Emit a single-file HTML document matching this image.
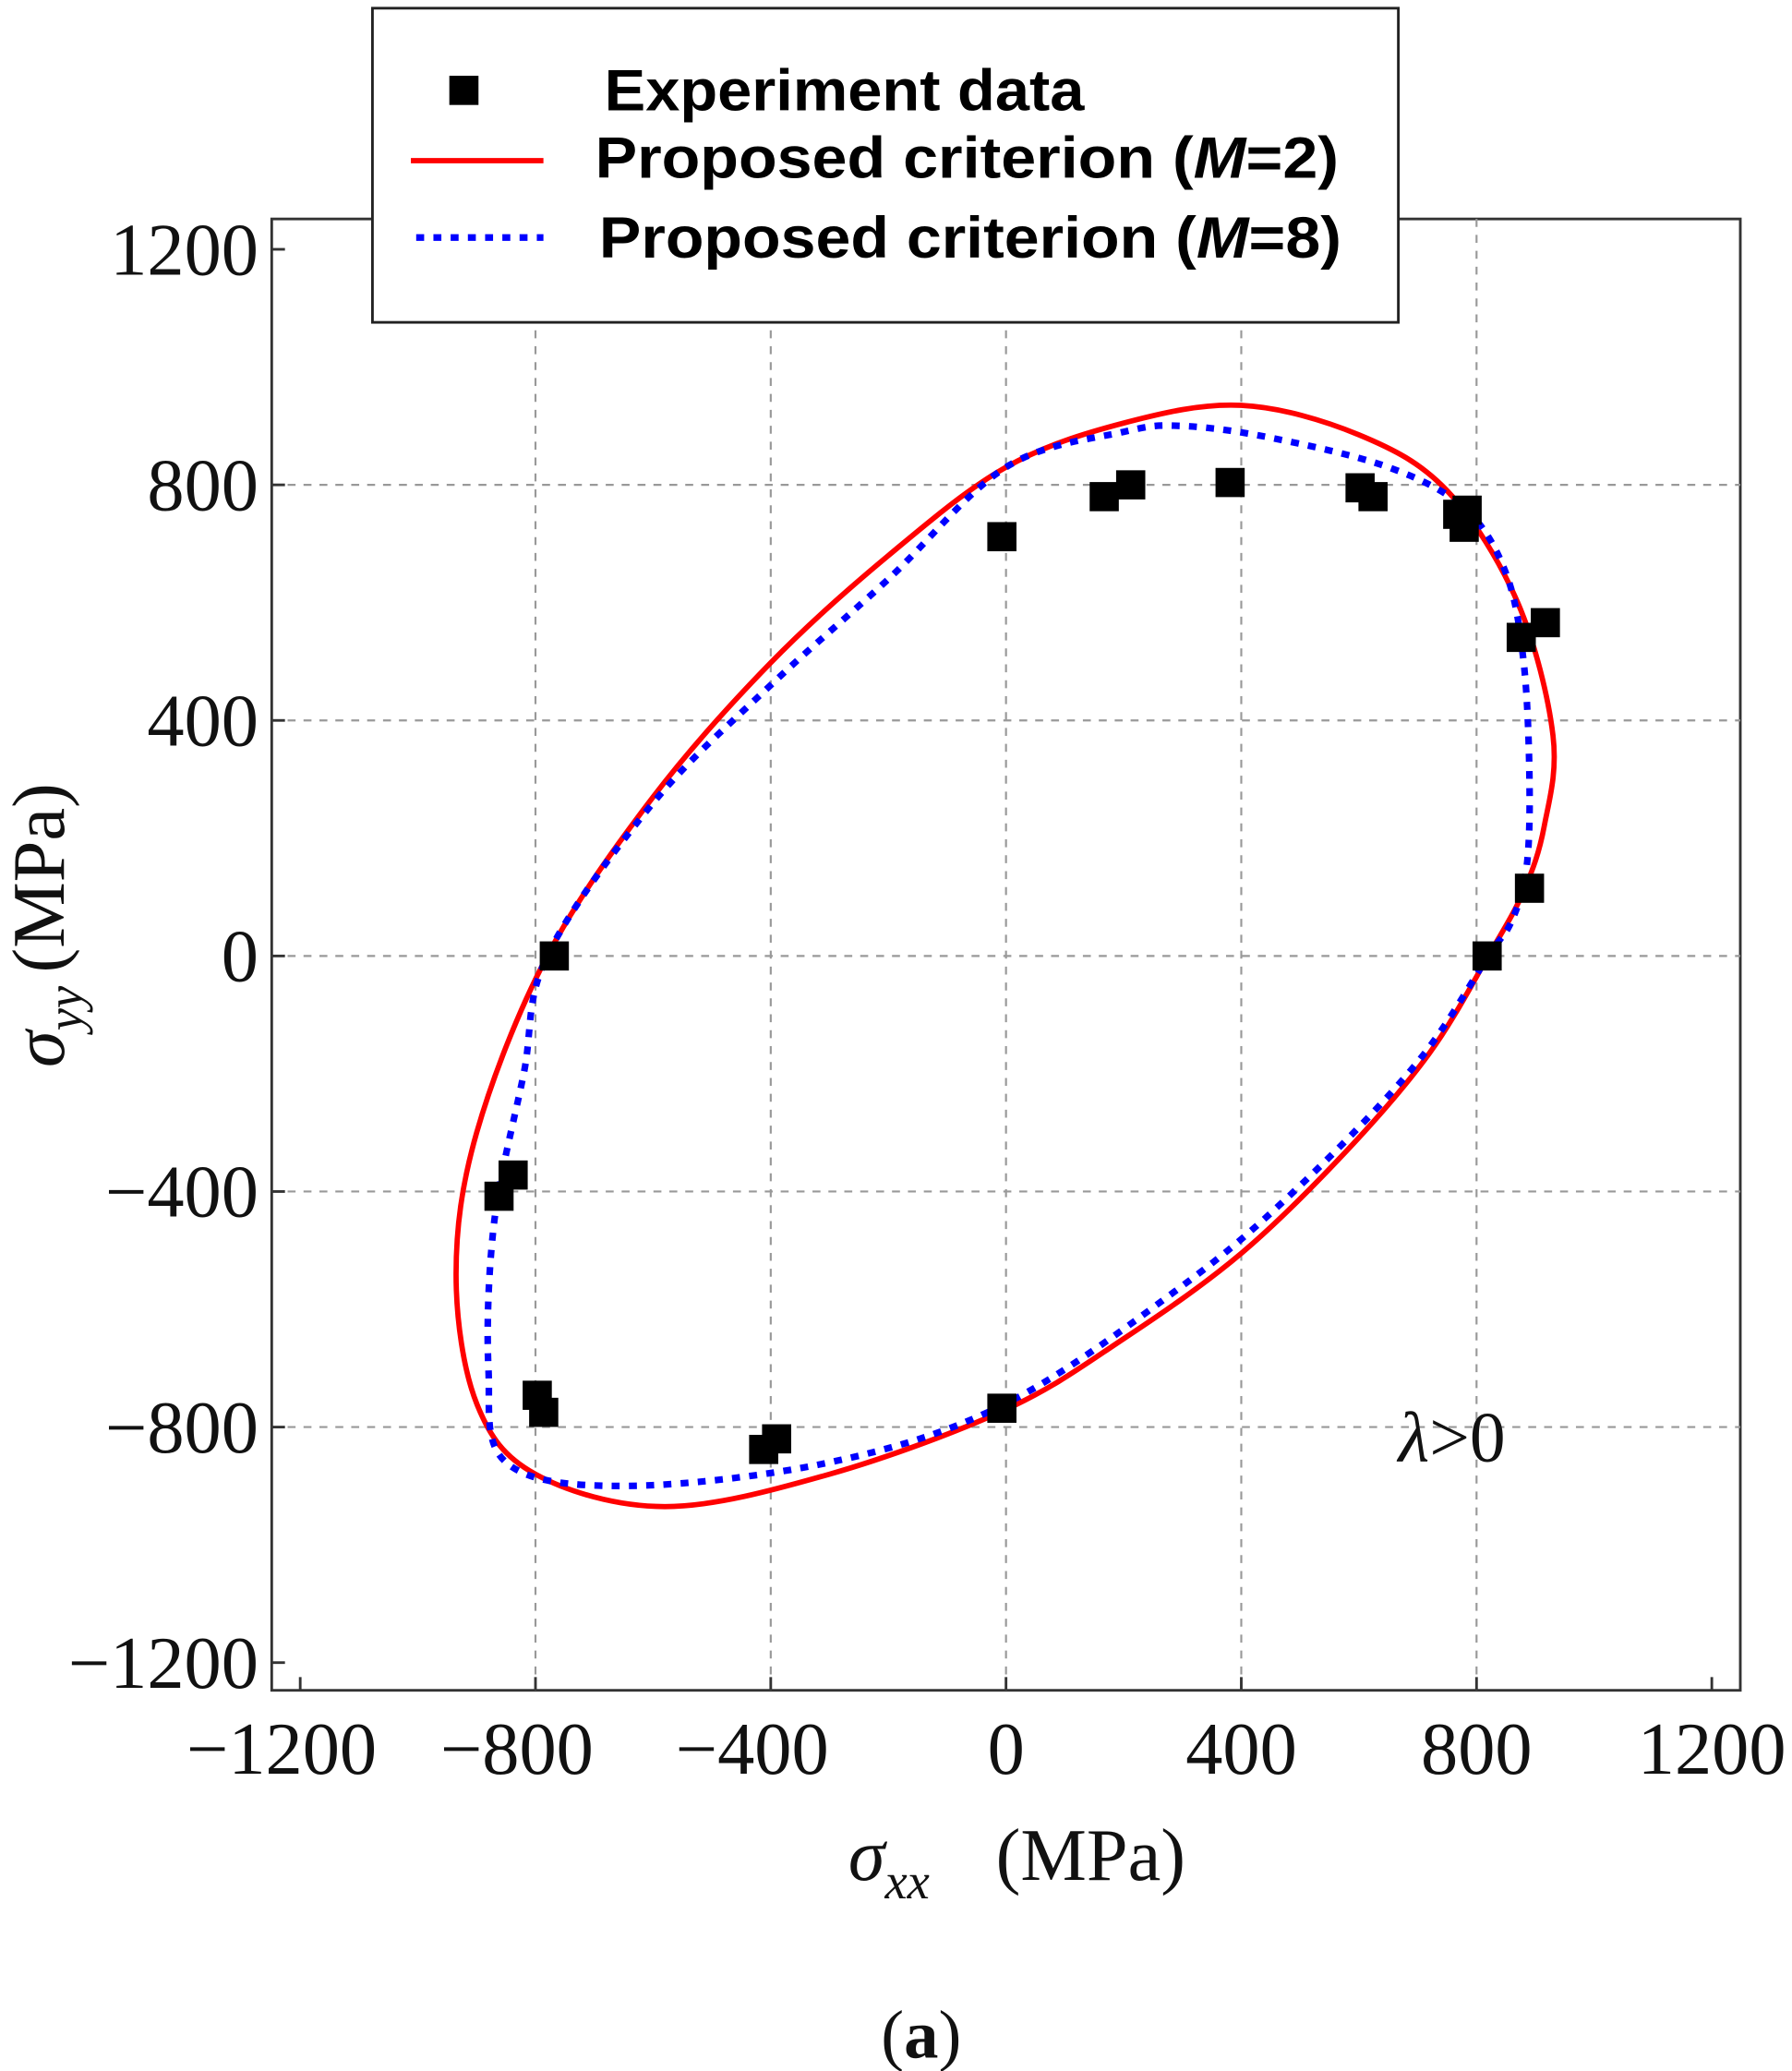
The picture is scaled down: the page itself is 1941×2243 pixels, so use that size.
<!DOCTYPE html>
<html><head><meta charset="utf-8"><style>
html,body{margin:0;padding:0;background:#fff;}
svg{display:block;}
.tick{font-family:"Liberation Serif",serif;font-size:56px;fill:#111;}
.leg{font-family:"Liberation Sans",sans-serif;font-weight:bold;font-size:44px;fill:#000;}
</style></head><body>
<svg id="chart" width="1941" height="2243" viewBox="0 0 1352 1562" xmlns="http://www.w3.org/2000/svg">
<rect x="205" y="165" width="1108" height="1110" fill="#fff" stroke="#333" stroke-width="2"/>
<g id="grid"></g>
<g id="ticks"></g>
<g id="series"></g>
<text x="1055" y="1102" font-family="Liberation Serif,serif" font-size="54" fill="#111"><tspan font-style="italic">λ</tspan>&gt;0</text>
<text x="640" y="1418" font-family="Liberation Serif,serif" font-size="56" fill="#111"><tspan font-style="italic">σ</tspan><tspan font-style="italic" font-size="38" dy="14">xx</tspan><tspan dy="-14" dx="50">(MPa)</tspan></text>
<text transform="translate(48,805) rotate(-90)" font-family="Liberation Serif,serif" font-size="56" fill="#111"><tspan font-style="italic">σ</tspan><tspan font-style="italic" font-size="38" dy="14">yy</tspan><tspan dy="-14" dx="10">(MPa)</tspan></text>
<text x="695" y="1552" text-anchor="middle" font-family="Liberation Serif,serif" font-size="52" fill="#111">(<tspan font-weight="bold">a</tspan>)</text>
<g>
<rect x="281" y="6" width="774" height="237" fill="#fff" stroke="#222" stroke-width="2"/>
<rect x="339" y="57" width="22" height="22" fill="#000"/>
<text class="leg" x="456" y="83" textLength="362" lengthAdjust="spacingAndGlyphs">Experiment data</text>
<line x1="310" y1="121" x2="410" y2="121" stroke="#f00" stroke-width="4"/>
<text class="leg" x="449" y="134" textLength="561" lengthAdjust="spacingAndGlyphs">Proposed criterion  (<tspan font-style="italic">M</tspan>=2)</text>
<line x1="314" y1="179" x2="410" y2="179" stroke="#00f" stroke-width="5" stroke-dasharray="6,7"/>
<text class="leg" x="452" y="194" textLength="560" lengthAdjust="spacingAndGlyphs">Proposed criterion  (<tspan font-style="italic">M</tspan>=8)</text>
</g>
</svg>
<script>
const xTicks=[-1200,-800,-400,0,400,800,1200];
const yTicks=[-1200,-800,-400,0,400,800,1200];
const redX=[0,200,400,600,750,870,930,915,880,820,720,580,400,200,0,-300,-580,-800,-900,-935,-900,-780,-600,-400,-200];
const redY=[830,905,935,885,790,600,374,220,110,0,-165,-330,-505,-650,-770,-880,-935,-880,-760,-540,-300,0,270,498,680];
const blueX=[0,200,300,450,650,780,850,880,890,885,860,820,700,500,300,0,-300,-650,-850,-880,-870,-820,-780,-600,-400,-200];
const blueY=[830,890,900,880,830,760,650,500,300,150,60,0,-180,-390,-560,-760,-860,-900,-860,-700,-450,-200,0,260,460,640];
const expX=[-7,167,212,381,602,624,768,779,784,876,917,890,818,-768,-838,-862,-797,-786,-412,-390,-7];
const expY=[712,780,800,804,795,780,750,728,757,541,566,115,0,0,-372,-408,-746,-775,-838,-820,-768];
const sx=v=>759+v*177.5/400, sy=v=>721-v*177.7/400;
const NS="http://www.w3.org/2000/svg";
const g=document.getElementById('grid'),t=document.getElementById('ticks'),s=document.getElementById('series');
function mk(tag,attrs,parent){const e=document.createElementNS(NS,tag);for(const k in attrs)e.setAttribute(k,attrs[k]);parent.appendChild(e);return e;}
xTicks.forEach(v=>{
 if(Math.abs(v)<1200){const l=mk('line',{x1:sx(v),x2:sx(v),y1:165,y2:1275,stroke:'#999','stroke-width':1.5,'stroke-dasharray':'6,6'},g);
 
 }
 const tk=mk('line',{x1:sx(v),x2:sx(v),y1:1265,y2:1275,stroke:'#333','stroke-width':2},t);
 
 
 const tx=mk('text',{x:sx(v)-(v<0?14:0),y:1338,'text-anchor':'middle',class:'tick'},t);
 tx.textContent=v<0?'−'+(-v):String(v);
 
 
});
yTicks.forEach(v=>{
 if(Math.abs(v)<1200){const l=mk('line',{x1:205,x2:1313,y1:sy(v),y2:sy(v),stroke:'#999','stroke-width':1.5,'stroke-dasharray':'6,6'},g);
 
 }
 const tk=mk('line',{x1:205,x2:215,y1:sy(v),y2:sy(v),stroke:'#333','stroke-width':2},t);
 
 
 const tx=mk('text',{x:195,y:sy(v)+19,'text-anchor':'end',class:'tick'},t);
 tx.textContent=v<0?'−'+(-v):String(v);
 
 
});
function closedPath(xs,ys){
 const p=xs.map((x,i)=>[sx(x),sy(ys[i])]),n=p.length;let d='M'+p[0][0]+','+p[0][1];
 for(let i=0;i<n;i++){const p0=p[(i-1+n)%n],p1=p[i],p2=p[(i+1)%n],p3=p[(i+2)%n];
  d+=' C'+(p1[0]+(p2[0]-p0[0])/6)+','+(p1[1]+(p2[1]-p0[1])/6)+' '+(p2[0]-(p3[0]-p1[0])/6)+','+(p2[1]-(p3[1]-p1[1])/6)+' '+p2[0]+','+p2[1];}
 return d+'Z';}
const red=mk('path',{d:closedPath(redX,redY),fill:'none',stroke:'#f00','stroke-width':4},s);


const blue=mk('path',{d:closedPath(blueX,blueY),fill:'none',stroke:'#00f','stroke-width':5,'stroke-dasharray':'6,7'},s);


expX.forEach((x,i)=>{const r=mk('rect',{x:sx(x)-11,y:sy(expY[i])-11,width:22,height:22,fill:'#000'},s);
 
 });
</script>
</body></html>
